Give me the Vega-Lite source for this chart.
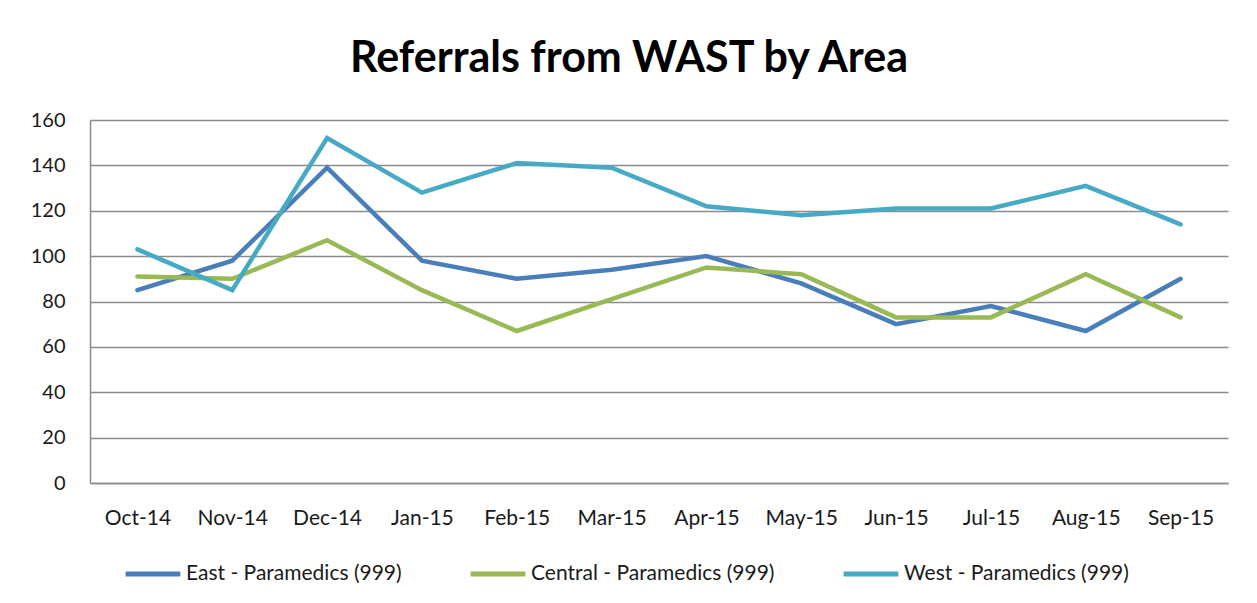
{
  "$schema": "https://vega.github.io/schema/vega-lite/v6.json",
  "width": 1138,
  "height": 363,
  "autosize": {"type": "none"},
  "padding": {"left": 90, "top": 120, "right": 29, "bottom": 120},
  "background": "white",
  "title": {
    "text": "Referrals from WAST by Area",
    "font": "Lato",
    "fontSize": 43,
    "fontWeight": "bold",
    "color": "#000000",
    "anchor": "middle",
    "dx": -30,
    "offset": 29
  },
  "data": {
    "values": [
      {"month": "Oct-14", "series": "East - Paramedics (999)", "value": 85},
      {"month": "Nov-14", "series": "East - Paramedics (999)", "value": 98},
      {"month": "Dec-14", "series": "East - Paramedics (999)", "value": 139},
      {"month": "Jan-15", "series": "East - Paramedics (999)", "value": 98},
      {"month": "Feb-15", "series": "East - Paramedics (999)", "value": 90},
      {"month": "Mar-15", "series": "East - Paramedics (999)", "value": 94},
      {"month": "Apr-15", "series": "East - Paramedics (999)", "value": 100},
      {"month": "May-15", "series": "East - Paramedics (999)", "value": 88},
      {"month": "Jun-15", "series": "East - Paramedics (999)", "value": 70},
      {"month": "Jul-15", "series": "East - Paramedics (999)", "value": 78},
      {"month": "Aug-15", "series": "East - Paramedics (999)", "value": 67},
      {"month": "Sep-15", "series": "East - Paramedics (999)", "value": 90},
      {"month": "Oct-14", "series": "Central - Paramedics (999)", "value": 91},
      {"month": "Nov-14", "series": "Central - Paramedics (999)", "value": 90},
      {"month": "Dec-14", "series": "Central - Paramedics (999)", "value": 107},
      {"month": "Jan-15", "series": "Central - Paramedics (999)", "value": 85},
      {"month": "Feb-15", "series": "Central - Paramedics (999)", "value": 67},
      {"month": "Mar-15", "series": "Central - Paramedics (999)", "value": 81},
      {"month": "Apr-15", "series": "Central - Paramedics (999)", "value": 95},
      {"month": "May-15", "series": "Central - Paramedics (999)", "value": 92},
      {"month": "Jun-15", "series": "Central - Paramedics (999)", "value": 73},
      {"month": "Jul-15", "series": "Central - Paramedics (999)", "value": 73},
      {"month": "Aug-15", "series": "Central - Paramedics (999)", "value": 92},
      {"month": "Sep-15", "series": "Central - Paramedics (999)", "value": 73},
      {"month": "Oct-14", "series": "West - Paramedics (999)", "value": 103},
      {"month": "Nov-14", "series": "West - Paramedics (999)", "value": 85},
      {"month": "Dec-14", "series": "West - Paramedics (999)", "value": 152},
      {"month": "Jan-15", "series": "West - Paramedics (999)", "value": 128},
      {"month": "Feb-15", "series": "West - Paramedics (999)", "value": 141},
      {"month": "Mar-15", "series": "West - Paramedics (999)", "value": 139},
      {"month": "Apr-15", "series": "West - Paramedics (999)", "value": 122},
      {"month": "May-15", "series": "West - Paramedics (999)", "value": 118},
      {"month": "Jun-15", "series": "West - Paramedics (999)", "value": 121},
      {"month": "Jul-15", "series": "West - Paramedics (999)", "value": 121},
      {"month": "Aug-15", "series": "West - Paramedics (999)", "value": 131},
      {"month": "Sep-15", "series": "West - Paramedics (999)", "value": 114}
    ]
  },
  "mark": {"type": "line", "strokeWidth": 4.5, "strokeCap": "round", "strokeJoin": "miter"},
  "encoding": {
    "x": {
      "field": "month",
      "type": "ordinal",
      "sort": null,
      "scale": {"type": "point", "padding": 0.5},
      "axis": {
        "title": null,
        "labelAngle": 0,
        "labelFont": "Lato",
        "labelFontSize": 21,
        "labelColor": "#1a1a1a",
        "labelPadding": 24,
        "ticks": false,
        "grid": false,
        "domain": true,
        "domainColor": "#8c8c8c",
        "domainWidth": 1.5
      }
    },
    "y": {
      "field": "value",
      "type": "quantitative",
      "scale": {"domain": [0, 160], "nice": false, "zero": true},
      "axis": {
        "title": null,
        "values": [0, 20, 40, 60, 80, 100, 120, 140, 160],
        "labelFont": "Lato",
        "labelFontSize": 20,
        "labelColor": "#1a1a1a",
        "labelPadding": 25,
        "ticks": false,
        "grid": true,
        "gridColor": "#8c8c8c",
        "gridWidth": 1.5,
        "domain": true,
        "domainColor": "#8c8c8c",
        "domainWidth": 1.5
      }
    },
    "color": {
      "field": "series",
      "type": "nominal",
      "scale": {
        "domain": ["East - Paramedics (999)", "Central - Paramedics (999)", "West - Paramedics (999)"],
        "range": ["#4a7ebb", "#98b954", "#46aac5"]
      },
      "legend": {
        "title": null,
        "orient": "none",
        "direction": "horizontal",
        "legendX": 33,
        "legendY": 424,
        "symbolType": "stroke",
        "symbolSize": 3000,
        "symbolStrokeWidth": 5,
        "labelFont": "Lato",
        "labelFontSize": 21,
        "labelColor": "#1a1a1a",
        "labelOffset": 3,
        "columnPadding": 58,
        "labelLimit": 400
      }
    }
  },
  "config": {
    "view": {"stroke": null}
  }
}
